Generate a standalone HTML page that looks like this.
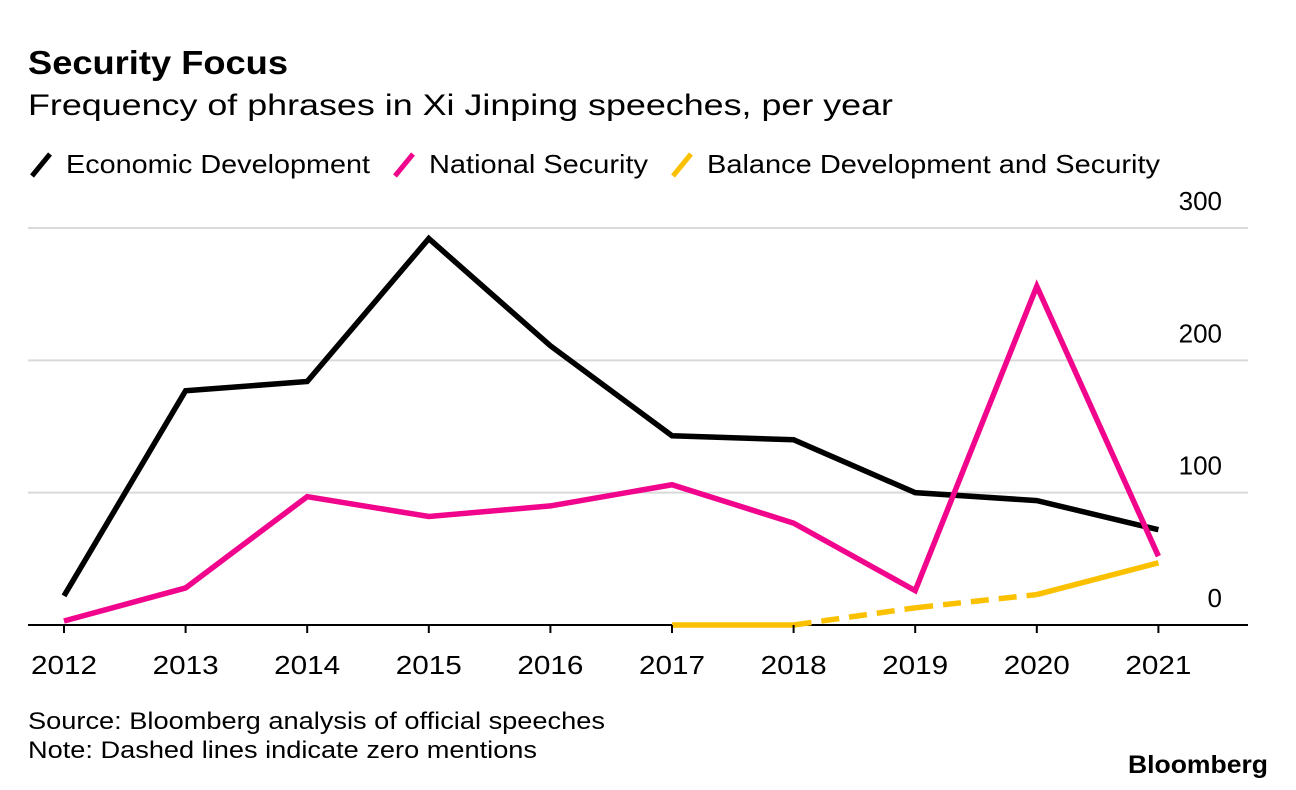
<!DOCTYPE html>
<html><head><meta charset="utf-8"><style>
body{margin:0;width:1296px;height:790px;background:#fff;font-family:"Liberation Sans",Arial,sans-serif;overflow:hidden}
svg{position:absolute;left:0;top:0}
</style></head><body>
<svg width="1296" height="790">
<text x="28" y="74" font-size="33" font-weight="bold" fill="#000" textLength="260" lengthAdjust="spacingAndGlyphs">Security Focus</text>
<text x="28" y="115" font-size="30" fill="#000" textLength="865" lengthAdjust="spacingAndGlyphs">Frequency of phrases in Xi Jinping speeches, per year</text>
<g>
<g><line x1="32" y1="176" x2="50" y2="154" stroke="#000" stroke-width="5"/><text x="66" y="173" font-size="26" textLength="304" lengthAdjust="spacingAndGlyphs">Economic Development</text></g>
<g><line x1="395" y1="176" x2="413" y2="154" stroke="#f0058c" stroke-width="5"/><text x="429" y="173" font-size="26" textLength="219" lengthAdjust="spacingAndGlyphs">National Security</text></g>
<g><line x1="673" y1="176" x2="691" y2="154" stroke="#fbc100" stroke-width="5"/><text x="707" y="173" font-size="26" textLength="453" lengthAdjust="spacingAndGlyphs">Balance Development and Security</text></g>
</g>
<g id="grid"></g><g id="series"></g><g id="xlabels"></g>
<text x="28" y="729" font-size="24" textLength="577" lengthAdjust="spacingAndGlyphs">Source: Bloomberg analysis of official speeches</text>
<text x="28" y="758" font-size="24" textLength="509" lengthAdjust="spacingAndGlyphs">Note: Dashed lines indicate zero mentions</text>
<text x="1128" y="773" font-size="25" font-weight="bold" textLength="140" lengthAdjust="spacingAndGlyphs">Bloomberg</text>
</svg>
<script>
const years=[2012,2013,2014,2015,2016,2017,2018,2019,2020,2021];
const economic=[22,177,184,292,211,143,140,100,94,72];
const security=[3,28,97,82,90,106,77,26,256,52];
const balanceYears=[2017,2018,2019,2020,2021];
const balance=[0,0,13,23,47];
const yTicks=[0,100,200,300];
const NS='http://www.w3.org/2000/svg';
const x=y=>64+(y-2012)*121.6;
const yS=v=>625-v*1.3233;
function mk(t,a,p){const e=document.createElementNS(NS,t);for(const k in a)e.setAttribute(k,a[k]);p.appendChild(e);return e;}
const grid=document.getElementById('grid');
yTicks.forEach(v=>{
 const l=mk('line',{x1:28,x2:1248,y1:yS(v),y2:yS(v),stroke:v===0?'#000':'#d9d9d9','stroke-width':2},grid);
 
 
 const t=mk('text',{x:1222,y:yS(v)-18,'font-size':26,'text-anchor':'end'},grid);t.textContent=v;
 
 
});
const xl=document.getElementById('xlabels');
years.forEach(y=>{
 const tk=mk('line',{x1:x(y),x2:x(y),y1:625,y2:633,stroke:'#000','stroke-width':2},xl);
 
 
 const t=mk('text',{x:x(y)-33,y:674,'font-size':26,textLength:66,lengthAdjust:'spacingAndGlyphs'},xl);t.textContent=y;
 
 
});
const s=document.getElementById('series');
function pts(xs,vs){return xs.map((y,i)=>x(y)+','+yS(vs[i])).join(' ');}
const e=mk('polyline',{points:pts(years,economic),fill:'none',stroke:'#000','stroke-width':5.5},s);


const n=mk('polyline',{points:pts(years,security),fill:'none',stroke:'#f0058c','stroke-width':5.5},s);


for(let i=0;i<balance.length-1;i++){
 const dashed=(i===1||i===2);
 const seg=mk('line',{x1:x(balanceYears[i]),y1:yS(balance[i]),x2:x(balanceYears[i+1]),y2:yS(balance[i+1]),stroke:'#fbc100','stroke-width':5.5},s);
 if(dashed)seg.setAttribute('stroke-dasharray','18 10');
 
 
}
</script>
</body></html>
